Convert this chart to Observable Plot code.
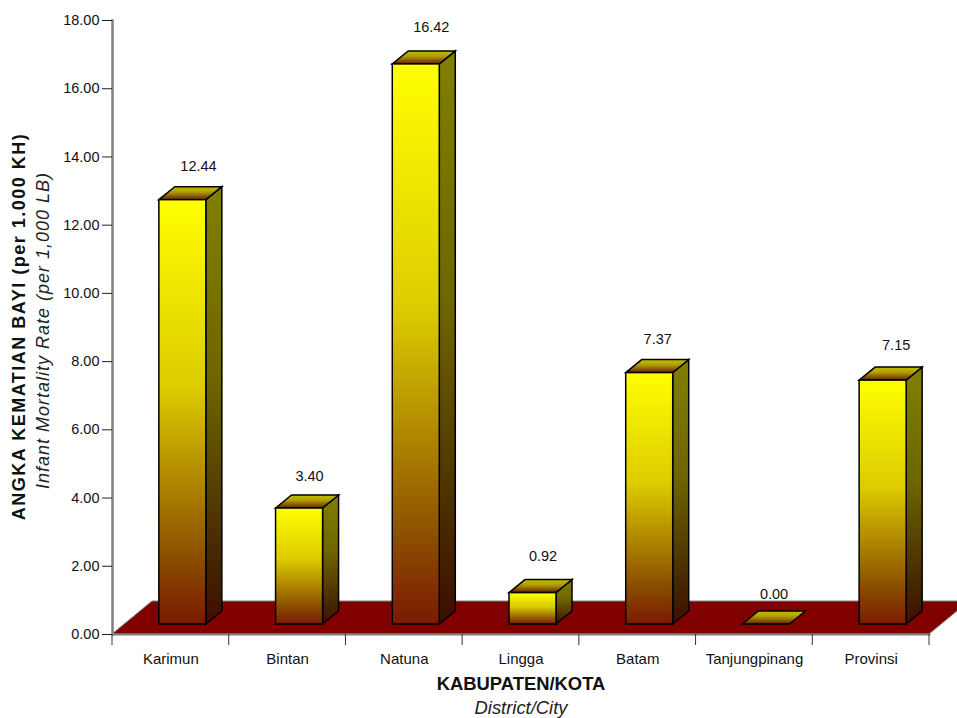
<!DOCTYPE html>
<html>
<head>
<meta charset="utf-8">
<script src="https://cdn.jsdelivr.net/npm/d3@7"></script>
<script src="https://cdn.jsdelivr.net/npm/@observablehq/plot@0.6"></script>
<style>
html,body{margin:0;padding:0;background:#fff;overflow:hidden}
svg{display:block}
</style>
</head>
<body>
<div id="chart"></div>
<script>
const categories = ["Karimun","Bintan","Natuna","Lingga","Batam","Tanjungpinang","Provinsi"];
const values = [12.44,3.40,16.42,0.92,7.37,0.00,7.15];
const yTicks = [0,2,4,6,8,10,12,14,16,18];
const yTitle = "ANGKA KEMATIAN BAYI (per 1.000 KH)";
const yTitleEn = "Infant Mortality Rate (per 1,000 LB)";
const xTitle = "KABUPATEN/KOTA";
const xTitleEn = "District/City";

const rows = categories.map((c,i)=>({c,v:values[i]}));
const FONT = "Liberation Sans, Arial, sans-serif";
const BAR = 47, SHIFT_X = 12, SHIFT_Y = -10, DEPTH_X = 16, DEPTH_Y = -13;
// hand placement of the value labels in the source chart, per bar
const labelNudgeX = [27.6,22,27,22,20,19.6,25];
const labelNudgeY = [-20.7,-19,-24.5,-23.6,-21,-17.5,-22];
const NS = "http://www.w3.org/2000/svg";

function gradient(defs,id,stops){
  const g = document.createElementNS(NS,"linearGradient");
  g.setAttribute("id",id);g.setAttribute("x1",0);g.setAttribute("y1",0);g.setAttribute("x2",0);g.setAttribute("y2",1);
  stops.forEach(([o,col])=>{const s=document.createElementNS(NS,"stop");s.setAttribute("offset",o);s.setAttribute("stop-color",col);g.appendChild(s);});
  defs.appendChild(g);
}
function poly(parent,pts,attrs){
  const p=document.createElementNS(NS,"polygon");
  p.setAttribute("points",pts.map(d=>d.join(",")).join(" "));
  for(const k in attrs)p.setAttribute(k,attrs[k]);
  parent.appendChild(p);
}
// floor + gradients
const floorMark = (index,scales,vals,dim)=>{
  const g=document.createElementNS(NS,"g");
  const defs=document.createElementNS(NS,"defs");
  gradient(defs,"front",[[0,"#ffff00"],[0.44,"#dccc00"],[0.84,"#8c5000"],[1,"#7a1a00"]]);
  gradient(defs,"side",[[0,"#808000"],[0.44,"#6e6600"],[0.84,"#462800"],[1,"#3d0d00"]]);
  gradient(defs,"top",[[0,"#c4bc00"],[0.4,"#b0a000"],[1,"#662000"]]);
  g.appendChild(defs);
  const l=dim.marginLeft,r=dim.width-dim.marginRight,b=scales.y(0);
  poly(g,[[l,b],[l+40,b-33],[r+40,b-33],[r,b]],{fill:"#800000",stroke:"#808080","stroke-width":1});
  return g;
};
// side and top faces of one bar, through the scales
const faces = (index,scales,vals,dim)=>{
  const g=document.createElementNS(NS,"g");
  const bw=(dim.width-dim.marginLeft-dim.marginRight)/categories.length;
  const base=scales.y(0)+SHIFT_Y;
  rows.forEach(d=>{
    const x0=scales.x(d.c)+bw/2+SHIFT_X-BAR/2,x1=x0+BAR,t=scales.y(d.v)+SHIFT_Y;
    const st={stroke:"#000","stroke-width":1.5,"stroke-linejoin":"miter"};
    if(d.v>0)poly(g,[[x1,t],[x1+DEPTH_X,t+DEPTH_Y],[x1+DEPTH_X,base+DEPTH_Y],[x1,base]],{fill:"url(#side)",...st});
    poly(g,[[x0,t],[x0+DEPTH_X,t+DEPTH_Y],[x1+DEPTH_X,t+DEPTH_Y],[x1,t]],{fill:"url(#top)",...st});
  });
  return g;
};
// category boundary ticks
const edgeTicks = (index,scales,vals,dim)=>{
  const g=document.createElementNS(NS,"g");
  const bw=(dim.width-dim.marginLeft-dim.marginRight)/categories.length;
  const b=scales.y(0);
  for(let i=0;i<=categories.length;i++){
    const x=dim.marginLeft+i*bw,l=document.createElementNS(NS,"line");
    l.setAttribute("x1",x);l.setAttribute("x2",x);l.setAttribute("y1",b);l.setAttribute("y2",b+11);
    l.setAttribute("stroke","#333");l.setAttribute("stroke-width",1);
    g.appendChild(l);
  }
  return g;
};

const chart = Plot.plot({
  width:957,height:718,
  marginLeft:112,marginRight:28,marginTop:20,marginBottom:84,
  style:{fontFamily:FONT,background:"#fff",overflow:"hidden"},
  x:{domain:categories,type:"band",padding:0,round:false,axis:null},
  y:{domain:[0,18],axis:null},
  marks:[
    floorMark,
    Plot.frame({anchor:"bottom",stroke:"#808080",strokeWidth:2}),
    Plot.frame({anchor:"left",stroke:"#808080",strokeWidth:2.5}),
    Plot.axisY(yTicks,{tickSize:10,tickPadding:3,tickFormat:d3.format(".2f"),fontSize:14.5,label:null,stroke:"#222",fill:"#111"}),
    edgeTicks,
    Plot.axisX(categories,{anchor:"bottom",tickSize:0,tickPadding:19,fontSize:15,label:null,fill:"#111"}),
    faces,
    Plot.barY(rows,{x:"c",y:"v",fill:"url(#front)",stroke:"#000",strokeWidth:1.5,insetLeft:34.85,insetRight:34.85,dx:SHIFT_X,dy:SHIFT_Y}),
    ...rows.map((d,i)=>Plot.text([d],{x:"c",y:"v",text:r=>d3.format(".2f")(r.v),dx:labelNudgeX[i],dy:SHIFT_Y+DEPTH_Y+labelNudgeY[i],fontSize:14.5,fill:"#111"})),
    Plot.text([yTitle],{text:d=>d,frameAnchor:"left",textAnchor:"middle",rotate:-90,dx:-93,dy:-1,fontSize:18,fontWeight:"bold",fill:"#111"}),
    Plot.text([yTitleEn],{text:d=>d,frameAnchor:"left",textAnchor:"middle",rotate:-90,dx:-69.5,dy:3,fontSize:18,fontStyle:"italic",fill:"#222"}),
    Plot.text([xTitle],{text:d=>d,frameAnchor:"bottom",dy:55,fontSize:18.4,fontWeight:"bold",fill:"#111"}),
    Plot.text([xTitleEn],{text:d=>d,frameAnchor:"bottom",dy:79.5,fontSize:18.4,fontStyle:"italic",fill:"#222"})
  ]
});
d3.select(chart).selectAll("text").each(function(){
  const t=this.textContent;
  if(t===yTitle)this.style.letterSpacing="1.5px";
  if(t===yTitleEn)this.style.letterSpacing="1px";
});
document.getElementById("chart").appendChild(chart);
</script>
</body>
</html>
